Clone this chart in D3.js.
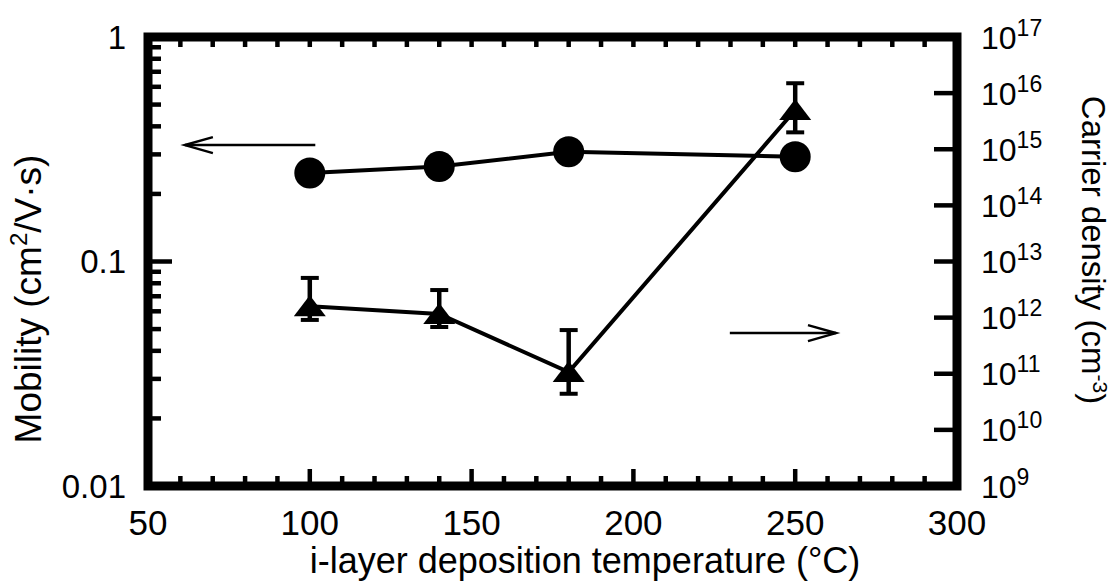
<!DOCTYPE html>
<html>
<head>
<meta charset="utf-8">
<script src="https://cdnjs.cloudflare.com/ajax/libs/d3/7.8.5/d3.min.js"></script>
<style>
  body { margin: 0; background: #fff; }
  text { font-family: "Liberation Sans", Arial, sans-serif; fill: #000; }
</style>
</head>
<body>
<script>
// values
var temps = [100, 140, 180, 250];
var mobility = [0.248, 0.265, 0.308, 0.293];
var density = [1.6e12, 1.16e12, 1.07e11, 5.0e15];
var densityHi = [5.1e12, 3.1e12, 6.0e11, 1.5e16];
var densityLo = [9.1e11, 6.8e11, 4.4e10, 2.0e15];

var xTicks = [50, 100, 150, 200, 250, 300];
var leftTicks = [0.01, 0.1, 1];
var leftTickLabels = ['0.01', '0.1', '1'];
var rightExps = [9, 10, 11, 12, 13, 14, 15, 16, 17];

var w = 1117, h = 583;
var pLeft = 148, pRight = 957, pTop = 37, pBottom = 486;

var svg = d3.select('body').append('svg')
  .attr('width', w)
  .attr('height', h);

var x = d3.scaleLinear().domain([50, 300]).range([pLeft, pRight]);
var yL = d3.scaleLog().domain([0.01, 1]).range([pBottom, pTop]);
var yR = d3.scaleLog().domain([1e9, 1e17]).range([pBottom, pTop]);

// minor ticks
var xMinor = d3.range(60, 300, 10).filter(function(d){ return d % 50 != 0; });
var leftMinor = [];
[0.01, 0.1].forEach(function(b){
  for (var k = 2; k <= 9; k++) leftMinor.push(b * k);
});

// bottom axis
var bAxis = svg.append('g').attr('transform', 'translate(0,' + pBottom + ')');
bAxis.selectAll('.mj').data(xTicks.slice(1, -1)).enter().append('line')
  .attr('x1', x).attr('x2', x).attr('y1', 0).attr('y2', -17)
  .attr('stroke', '#000').attr('stroke-width', 4.5);
bAxis.selectAll('.mn').data(xMinor).enter().append('line')
  .attr('x1', x).attr('x2', x).attr('y1', 0).attr('y2', -10)
  .attr('stroke', '#000').attr('stroke-width', 4.5);
bAxis.selectAll('text').data(xTicks).enter().append('text')
  .attr('x', x).attr('y', 49)
  .attr('text-anchor', 'middle')
  .attr('font-size', 35)
  .text(function(d){ return d; });

// top axis
var tAxis = svg.append('g').attr('transform', 'translate(0,' + pTop + ')');
tAxis.selectAll('line').data(xMinor.concat(xTicks.slice(1, -1))).enter().append('line')
  .attr('x1', x).attr('x2', x).attr('y1', 0).attr('y2', 10)
  .attr('stroke', '#000').attr('stroke-width', 4.5);

// left axis
var lAxis = svg.append('g').attr('transform', 'translate(' + pLeft + ',0)');
lAxis.selectAll('.mn').data(leftMinor).enter().append('line')
  .attr('y1', yL).attr('y2', yL).attr('x1', 0).attr('x2', 13)
  .attr('stroke', '#000').attr('stroke-width', 4.5);
lAxis.selectAll('.mj').data([0.1]).enter().append('line')
  .attr('y1', yL).attr('y2', yL).attr('x1', 0).attr('x2', 24)
  .attr('stroke', '#000').attr('stroke-width', 4.5);
lAxis.selectAll('text').data(leftTicks).enter().append('text')
  .attr('x', -22).attr('y', yL)
  .attr('dy', '0.36em')
  .attr('text-anchor', 'end')
  .attr('font-size', 33)
  .text(function(d, i){ return leftTickLabels[i]; });

// right axis
var rAxis = svg.append('g').attr('transform', 'translate(' + pRight + ',0)');
rAxis.selectAll('line').data(rightExps.slice(1, -1)).enter().append('line')
  .attr('y1', function(d){ return yR(Math.pow(10, d)); })
  .attr('y2', function(d){ return yR(Math.pow(10, d)); })
  .attr('x1', 0).attr('x2', -23)
  .attr('stroke', '#000').attr('stroke-width', 4.5);
var rl = rAxis.selectAll('text').data(rightExps).enter().append('text')
  .attr('x', 24)
  .attr('y', function(d){ return yR(Math.pow(10, d)); })
  .attr('dy', '0.36em')
  .attr('font-size', 32);
rl.append('tspan').text('10');
rl.append('tspan').attr('font-size', 23).attr('dy', -13).text(function(d){ return d; });

// frame
svg.append('rect')
  .attr('x', pLeft).attr('y', pTop)
  .attr('width', pRight - pLeft).attr('height', pBottom - pTop)
  .attr('fill', 'none').attr('stroke', '#000').attr('stroke-width', 9)
  .attr('stroke-linejoin', 'miter');

// mobility series
var pts = temps.map(function(t, i){ return [x(t), yL(mobility[i])]; });
svg.append('path')
  .attr('d', d3.line()(pts))
  .attr('fill', 'none').attr('stroke', '#000').attr('stroke-width', 4);
svg.selectAll('.circ').data(pts).enter().append('circle')
  .attr('cx', function(d){ return d[0]; })
  .attr('cy', function(d){ return d[1]; })
  .attr('r', 15.5)
  .attr('fill', '#000');

// carrier density series
var pts2 = temps.map(function(t, i){ return [x(t), yR(density[i])]; });
svg.append('path')
  .attr('d', d3.line()(pts2))
  .attr('fill', 'none').attr('stroke', '#000').attr('stroke-width', 4);
var eb = svg.selectAll('.eb').data(temps).enter().append('g');
eb.append('line')
  .attr('x1', x).attr('x2', x)
  .attr('y1', function(d, i){ return yR(densityHi[i]); })
  .attr('y2', function(d, i){ return yR(densityLo[i]); })
  .attr('stroke', '#000').attr('stroke-width', 4.5);
eb.append('line')
  .attr('x1', function(d){ return x(d) - 9; }).attr('x2', function(d){ return x(d) + 9; })
  .attr('y1', function(d, i){ return yR(densityHi[i]); })
  .attr('y2', function(d, i){ return yR(densityHi[i]); })
  .attr('stroke', '#000').attr('stroke-width', 4);
eb.append('line')
  .attr('x1', function(d){ return x(d) - 9; }).attr('x2', function(d){ return x(d) + 9; })
  .attr('y1', function(d, i){ return yR(densityLo[i]); })
  .attr('y2', function(d, i){ return yR(densityLo[i]); })
  .attr('stroke', '#000').attr('stroke-width', 4);
svg.selectAll('.tri').data(pts2).enter().append('path')
  .attr('d', function(d){
    return 'M' + d[0] + ',' + (d[1] - 11) + 'L' + (d[0] + 16) + ',' + (d[1] + 10) + 'L' + (d[0] - 16) + ',' + (d[1] + 10) + 'Z';
  })
  .attr('fill', '#000');

// arrows
function arrow(x1, x2, yy){
  var dir = x2 < x1 ? 1 : -1;
  svg.append('line').attr('x1', x1).attr('x2', x2).attr('y1', yy).attr('y2', yy)
    .attr('stroke', '#000').attr('stroke-width', 2.5);
  svg.append('path')
    .attr('d', 'M' + (x2 + dir * 28) + ',' + (yy - 8) + 'L' + x2 + ',' + yy + 'L' + (x2 + dir * 28) + ',' + (yy + 8))
    .attr('fill', 'none').attr('stroke', '#000').attr('stroke-width', 2.5);
}
arrow(x(101.7), x(61.4), yL(0.33));
arrow(x(229.8), x(262.6), yR(5.3e11));

// titles
svg.append('text')
  .attr('transform', 'translate(585,573)')
  .attr('text-anchor', 'middle')
  .attr('font-size', 36)
  .text('i-layer deposition temperature (°C)');

var lt = svg.append('text')
  .attr('transform', 'translate(41,299) rotate(-90)')
  .attr('text-anchor', 'middle')
  .attr('font-size', 37);
lt.append('tspan').text('Mobility (cm');
lt.append('tspan').attr('font-size', 24).attr('dy', -14).text('2');
lt.append('tspan').attr('dy', 14).text('/V·s)');

var rt = svg.append('text')
  .attr('transform', 'translate(1082,250) rotate(90)')
  .attr('text-anchor', 'middle')
  .attr('font-size', 33);
rt.append('tspan').text('Carrier density (cm');
rt.append('tspan').attr('font-size', 21).attr('dy', -11).text('-3');
rt.append('tspan').attr('dy', 11).text(')');
</script>
</body>
</html>
